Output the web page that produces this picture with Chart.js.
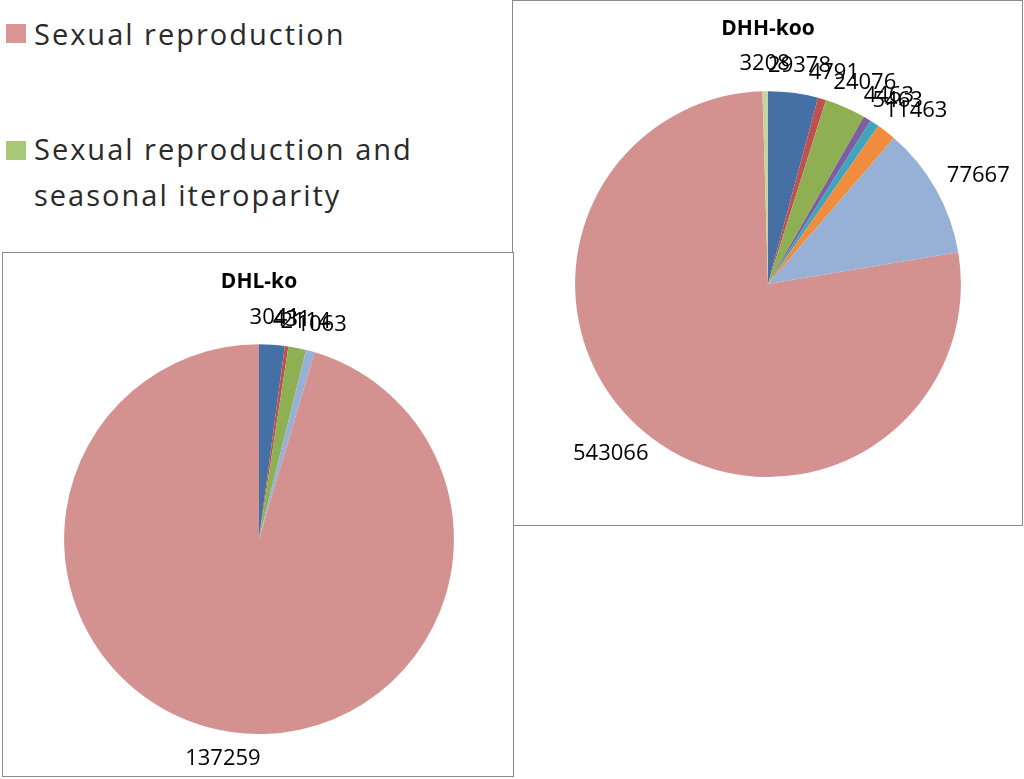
<!DOCTYPE html>
<html><head><meta charset="utf-8">
<script src="https://cdn.jsdelivr.net/npm/chart.js@4/dist/chart.umd.min.js"></script>
<style>
html,body{margin:0;padding:0;background:#fff;width:1024px;height:779px;overflow:hidden;font-family:"Open Sans",sans-serif;}
.box{position:absolute;border:1.5px solid #8a8a8a;background:#fff;box-sizing:border-box;}
#legend{position:absolute;left:0;top:0;}
.li{position:absolute;font-size:29px;letter-spacing:2px;color:#2a2a2a;white-space:nowrap;line-height:46px;}
.sw{position:absolute;width:20px;height:19px;}
</style></head><body>
<div id="legend">
  <div class="sw" style="left:6px;top:24px;background:#d99694"></div>
  <div class="li" style="left:34px;top:11px;">Sexual reproduction</div>
  <div class="sw" style="left:6px;top:141px;background:#a9c97a"></div>
  <div class="li" style="left:34px;top:126px;">Sexual reproduction and<br>seasonal iteroparity</div>
</div>
<div class="box" style="left:512px;top:0px;width:511px;height:526px;"><canvas id="c2"></canvas></div>
<div class="box" style="left:2px;top:252px;width:512px;height:525px;"><canvas id="c1"></canvas></div>
<script>
// Data
const categoriesKoo = ["Cat A","Cat B","Sexual reproduction and seasonal iteroparity","Cat D","Cat E","Cat F","Cat G","Sexual reproduction","Cat I"];
const valuesKoo = [29378, 4791, 24076, 4463, 5463, 11463, 77667, 543066, 3208];
const colorsKoo = ["#4470a6","#c0504d","#8fb052","#7d5f9f","#3fa5bf","#ef8c3e","#97b1d6","#d39190","#c3d69b"];
const categoriesKo = ["Cat A","Cat B","Sexual reproduction and seasonal iteroparity","Cat G","Sexual reproduction"];
const valuesKo = [3041, 431, 2114, 1063, 137259];
const colorsKo = ["#4470a6","#c0504d","#8fb052","#97b1d6","#d39190"];
const titleKoo = "DHH-koo";
const titleKo = "DHL-ko";

const outsideLabels = {
  id:'outsideLabels',
  afterDatasetsDraw(chart, args, opts){
    const ctx = chart.ctx;
    const ds = chart.data.datasets[0];
    const meta = chart.getDatasetMeta(0);
    ctx.save();
    ctx.font = opts.font;
    ctx.fillStyle = '#000';
    ctx.textAlign = 'center';
    ctx.textBaseline = 'middle';
    meta.data.forEach((arc,i)=>{
      const p = arc.getProps(['x','y','startAngle','endAngle','outerRadius'],true);
      const mid = (p.startAngle+p.endAngle)/2;
      const dx = Math.cos(mid), dy = Math.sin(mid);
      const txt = String(ds.data[i]);
      const hw = ctx.measureText(txt).width/2, hh = opts.halfH;
      const d = p.outerRadius + opts.gap;
      const cx = p.x + dx*d + dx*hw;
      const cy = p.y + dy*d + dy*hh;
      ctx.fillText(txt, cx, cy);
    });
    ctx.restore();
  }
};

function makePie(id, w, h, cats, vals, cols, title, pad, tpTop, tpBot){
  const cv = document.getElementById(id);
  cv.width = w; cv.height = h;
  cv.style.width = w+'px'; cv.style.height = h+'px';
  return new Chart(cv, {
    type:'pie',
    data:{labels:cats, datasets:[{data:vals, backgroundColor:cols, borderWidth:0}]},
    options:{
      responsive:false, animation:false, devicePixelRatio:1,
      layout:{padding:pad},
      plugins:{
        legend:{display:false},
        tooltip:{enabled:false},
        title:{display:true, text:title, color:'#000', font:{family:'Open Sans', size:21, weight:'bold'}, padding:{top:tpTop,bottom:tpBot}},
        outsideLabels:{font:'22px "Open Sans"', gap:17, halfH:10}
      }
    },
    plugins:[outsideLabels]
  });
}
// right box inner 508x523, pie center (255,283) r 193
makePie('c2', 508, 523, categoriesKoo, valuesKoo, colorsKoo, titleKoo, {left:62,right:60,top:0,bottom:47}, 15, 50);
// left box inner 509x522, pie center (256,286) r 195
makePie('c1', 509, 522, categoriesKo, valuesKo, colorsKo, titleKo, {left:61,right:58,top:0,bottom:41}, 16, 50);
</script>
</body></html>
